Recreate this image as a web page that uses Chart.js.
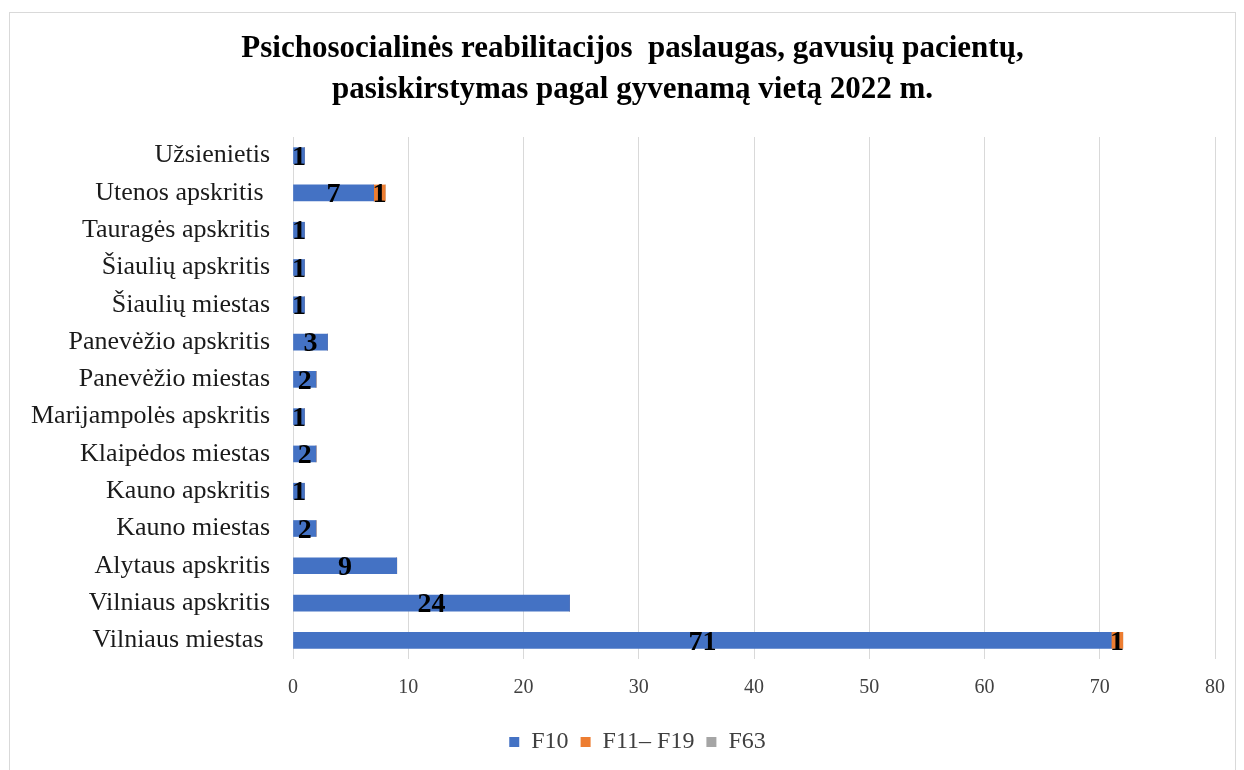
<!DOCTYPE html>
<html>
<head>
<meta charset="utf-8">
<script src="https://cdn.jsdelivr.net/npm/chart.js@4/dist/chart.umd.min.js"></script>
<style>
html,body{margin:0;padding:0;background:#fff;}
#wrap{position:absolute;left:0;top:0;width:1244px;height:770px;}
</style>
</head>
<body>
<div id="wrap"><canvas id="c" width="1244" height="770"></canvas></div>
<script>
const categories = [
  "Užsienietis",
  "Utenos apskritis ",
  "Tauragės apskritis",
  "Šiaulių apskritis",
  "Šiaulių miestas",
  "Panevėžio apskritis",
  "Panevėžio miestas",
  "Marijampolės apskritis",
  "Klaipėdos miestas",
  "Kauno apskritis",
  "Kauno miestas",
  "Alytaus apskritis",
  "Vilniaus apskritis",
  "Vilniaus miestas "
];
const f10 = [1, 7, 1, 1, 1, 3, 2, 1, 2, 1, 2, 9, 24, 71];
const f11_19 = [0, 1, 0, 0, 0, 0, 0, 0, 0, 0, 0, 0, 0, 1];
const f63 = [0, 0, 0, 0, 0, 0, 0, 0, 0, 0, 0, 0, 0, 0];
const seriesNames = ["F10", "F11– F19", "F63"];
const titleLines = [
  "Psichosocialinės reabilitacijos  paslaugas, gavusių pacientų,",
  "pasiskirstymas pagal gyvenamą vietą 2022 m."
];
const xTicks = { min: 0, max: 80, step: 10 };

const serif = "'Liberation Serif', 'Times New Roman', serif";

const frame = {
  id: 'frame',
  afterLayout(chart) {
    // centre title and legend on the whole frame, as in the original
    if (chart.titleBlock) { chart.titleBlock.left += 20; chart.titleBlock.right += 20; }
    if (chart.legend) { chart.legend.left += 25; chart.legend.right += 25; }
  },
  beforeDraw(chart) {
    const ctx = chart.ctx;
    ctx.save();
    ctx.fillStyle = '#fff';
    ctx.fillRect(0, 0, chart.width, chart.height);
    ctx.strokeStyle = '#d9d9d9';
    ctx.lineWidth = 1;
    ctx.strokeRect(9.5, 12.5, 1226, 800);
    ctx.restore();
  }
};

const valueLabels = {
  id: 'valueLabels',
  afterDatasetsDraw(chart) {
    const ctx = chart.ctx;
    ctx.save();
    ctx.font = "bold 28px " + serif;
    ctx.fillStyle = '#000';
    ctx.textAlign = 'center';
    ctx.textBaseline = 'middle';
    chart.data.datasets.forEach((ds, di) => {
      const meta = chart.getDatasetMeta(di);
      meta.data.forEach((el, i) => {
        const v = ds.data[i];
        if (!v) return;
        const p = el.getCenterPoint();
        ctx.fillText(String(v), p.x, p.y + 2);
      });
    });
    ctx.restore();
  }
};

new Chart(document.getElementById('c'), {
  type: 'bar',
  data: {
    labels: categories,
    datasets: [
      { label: seriesNames[0], data: f10, backgroundColor: '#4472C4' },
      { label: seriesNames[1], data: f11_19, backgroundColor: '#ED7D31' },
      { label: seriesNames[2], data: f63, backgroundColor: '#A5A5A5' }
    ]
  },
  options: {
    indexAxis: 'y',
    responsive: false,
    animation: false,
    layout: { padding: { left: 10, right: 29, top: 14, bottom: 6 } },
    datasets: { bar: { barThickness: 16 } },
    scales: {
      x: {
        stacked: true,
        min: xTicks.min, max: xTicks.max,
        afterFit(scale) { scale.height = 59; },
        ticks: { stepSize: xTicks.step, color: '#404040', padding: 17, font: { family: serif, size: 20 } },
        grid: { color: '#d9d9d9', lineWidth: 1, drawTicks: false },
        border: { display: false }
      },
      y: {
        stacked: true,
        afterFit(scale) { scale.width = 283; },
        ticks: { color: '#1a1a1a', padding: 23, font: { family: serif, size: 26 } },
        grid: { display: false, drawTicks: false },
        border: { display: false }
      }
    },
    plugins: {
      title: {
        display: true,
        text: titleLines,
        color: '#000',
        font: { family: serif, size: 31, weight: 'bold', lineHeight: 41 / 31 },
        padding: { top: 14, bottom: 27 }
      },
      legend: {
        position: 'bottom',
        labels: {
          color: '#404040',
          font: { family: serif, size: 24 },
          usePointStyle: true,
          pointStyle: 'rect',
          boxWidth: 10,
          boxHeight: 10,
          padding: 12
        }
      },
      tooltip: { enabled: false }
    }
  },
  plugins: [frame, valueLabels]
});
</script>
</body>
</html>
